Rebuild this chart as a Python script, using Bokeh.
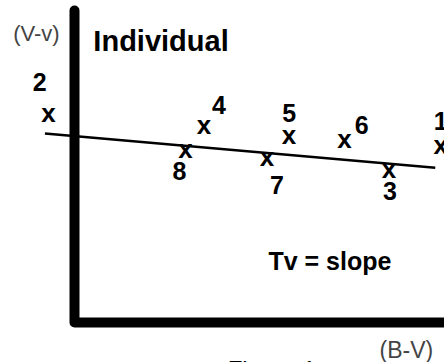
from bokeh.plotting import figure
from bokeh.models import ColumnDataSource, Range1d
from bokeh.core.properties import value
from bokeh.embed import file_html
from bokeh.resources import INLINE

# Standard stars: identifier, colour index (B-V) and (V-v) difference
star_ids = ["2", "4", "8", "5", "7", "6", "3", "1"]
b_minus_v = [-0.07, 0.35, 0.30, 0.58, 0.52, 0.73, 0.85, 0.99]
v_minus_v = [0.52, 0.49, 0.43, 0.465, 0.41, 0.455, 0.38, 0.44]

# Fitted transformation: (V-v) = zero_point + Tv * (B-V)
fit_slope = -0.081
fit_zero_point = 0.466
fit_bv = [-0.08, 0.975]
fit_vv = [fit_zero_point + fit_slope * b for b in fit_bv]

# Where each star number sits relative to its marker (screen pixels)
label_dx = [-9, 15, -6, 0, 10, 17, 1, 0]
label_dy = [-33, -22, 20, -24, 26, -16, 20, -26]

FONT = value("Liberation Sans")

src = ColumnDataSource(dict(bv=b_minus_v, vv=v_minus_v, sid=star_ids,
                            mark=["x"] * len(star_ids),
                            dx=label_dx, dy=label_dy))

p = figure(width=444, height=362,
           x_range=Range1d(-0.2, 1.0), y_range=Range1d(-0.1, 0.805),
           output_backend="svg", toolbar_location=None, min_border=0)
p.axis.visible = False
p.grid.visible = False
p.outline_line_color = None
p.background_fill_color = "white"
p.border_fill_color = "white"

# heavy axes drawn as one bent stroke
p.line(x=[0, 0, 1.25], y=[0.78, 0, 0], line_width=10, line_color="black",
       line_cap="round", line_join="round")

# fitted line
p.line(x=fit_bv, y=fit_vv, line_width=2.5, line_color="black")

# star markers
p.text(x="bv", y="vv", text="mark", source=src, text_font=FONT,
       text_font_style="bold", text_font_size="26px", text_color="black",
       text_align="center", text_baseline="middle", y_offset=-2)

# star numbers
p.text(x="bv", y="vv", text="sid", source=src, text_font=FONT,
       text_font_style="bold", text_font_size="25px", text_color="black",
       text_align="center", text_baseline="middle",
       x_offset="dx", y_offset="dy")

# titles and axis names
p.text(x=[0.051], y=[0.705], text=["Individual"], text_font=FONT,
       text_font_style="bold", text_font_size="29px", text_color="black",
       text_align="left", text_baseline="middle")
p.text(x=[0.524], y=[0.155], text=["Tv = slope"], text_font=FONT,
       text_font_style="bold", text_font_size="25px", text_color="black",
       text_align="left", text_baseline="middle")
p.text(x=[-0.103], y=[0.7225], text=["(V-v)"], text_font=FONT,
       text_font_size="22px", text_color="#444444",
       text_align="center", text_baseline="middle")
p.text(x=[0.897], y=[-0.0675], text=["(B-V)"], text_font=FONT,
       text_font_size="23px", text_color="#444444",
       text_align="center", text_baseline="middle")
p.text(x=[0.414], y=[-0.0825], text=["Figure 1"], text_font=FONT,
       text_font_size="24px", text_color="black",
       text_align="left", text_baseline="top")

open("out.html", "w").write(file_html(p, INLINE))
